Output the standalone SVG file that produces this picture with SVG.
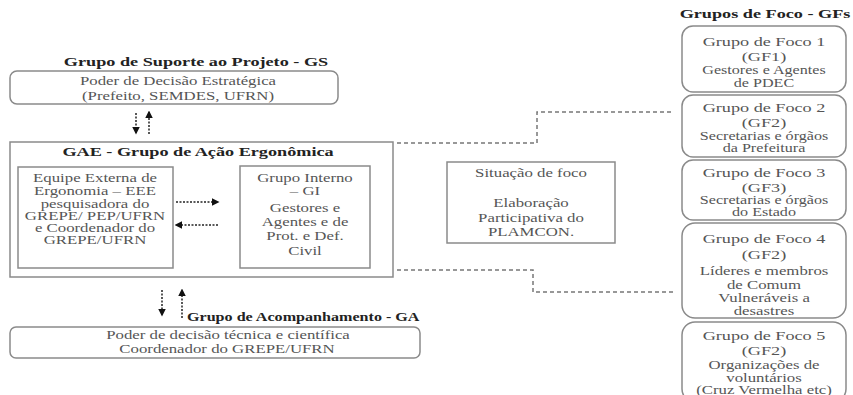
<svg xmlns="http://www.w3.org/2000/svg" width="853" height="395" viewBox="0 0 853 395" font-family="'Liberation Serif', 'Times New Roman', serif">
<defs>
<style>
text{font-family:'Liberation Serif','Times New Roman',serif;text-anchor:middle}
.r{fill:#555;font-size:12px}
.s{fill:#555;font-size:11.5px}
.m{fill:#555;font-size:13px}
.b{fill:#222;font-size:13px;font-weight:bold}
.box{fill:#fff;stroke:#8a8a8a;stroke-width:1.5}
.dash{fill:none;stroke:#777;stroke-width:1.5;stroke-dasharray:4 3}
.arr{fill:none;stroke:#222;stroke-width:1.5;stroke-dasharray:2 1.5}
</style>
<marker id="ah" viewBox="0 0 10 10" refX="8" refY="5" markerWidth="5" markerHeight="5" orient="auto">
<path d="M0,0 L10,5 L0,10 z" fill="#111"/>
</marker>
</defs>
<rect width="853" height="395" fill="#fff"/>

<g id="gs">
<text class="b" transform="translate(196,66) scale(1.4,1)">Grupo de Suporte ao Projeto - GS</text>
<rect class="box" x="10" y="71" width="328" height="33" rx="7"/>
<text class="r" transform="translate(178,85) scale(1.4,1)">Poder de Decisão Estratégica</text>
<text class="r" transform="translate(178,100) scale(1.4,1)">(Prefeito, SEMDES, UFRN)</text>
</g>

<g id="gae">
<rect class="box" x="10" y="142" width="383" height="135"/>
<text class="b" transform="translate(198,156) scale(1.4,1)">GAE - Grupo de Ação Ergonômica</text>
</g>

<g id="eee">
<rect class="box" x="18" y="167" width="155" height="101"/>
<text class="r" transform="translate(95,182) scale(1.4,1)">Equipe Externa de</text>
<text class="r" transform="translate(95,195) scale(1.4,1)">Ergonomia – EEE</text>
<text class="r" transform="translate(95,208) scale(1.4,1)">pesquisadora do</text>
<text class="r" transform="translate(95,220) scale(1.4,1)">GREPE/ PEP/UFRN</text>
<text class="r" transform="translate(95,232) scale(1.4,1)">e Coordenador do</text>
<text class="r" transform="translate(95,244) scale(1.4,1)">GREPE/UFRN</text>
</g>

<g id="gi">
<rect class="box" x="240" y="166" width="130" height="102"/>
<text class="r" transform="translate(305,182) scale(1.4,1)">Grupo Interno</text>
<text class="r" transform="translate(305,195) scale(1.4,1)">– GI</text>
<text class="r" transform="translate(305,212) scale(1.4,1)">Gestores e</text>
<text class="r" transform="translate(305,226) scale(1.4,1)">Agentes e de</text>
<text class="r" transform="translate(305,240) scale(1.4,1)">Prot. e Def.</text>
<text class="r" transform="translate(305,255) scale(1.4,1)">Civil</text>
</g>

<g id="foco">
<rect class="box" x="447" y="162" width="168" height="81"/>
<text class="r" transform="translate(531,177) scale(1.4,1)">Situação de foco</text>
<text class="r" transform="translate(531,207) scale(1.4,1)">Elaboração</text>
<text class="r" transform="translate(531,222) scale(1.4,1)">Participativa do</text>
<text class="r" transform="translate(531,236) scale(1.4,1)">PLAMCON.</text>
</g>

<g id="ga">
<text class="b" style="text-anchor:start;font-size:11.5px" transform="translate(187,321) scale(1.4,1)">Grupo de Acompanhamento - GA</text>
<rect class="box" x="10" y="327" width="410" height="31" rx="6"/>
<text class="r" transform="translate(228,339) scale(1.4,1)">Poder de decisão técnica e científica</text>
<text class="r" transform="translate(227,353) scale(1.4,1)">Coordenador  do GREPE/UFRN</text>
</g>

<g id="gfs">
<text class="b" transform="translate(765,18) scale(1.4,1)">Grupos de Foco - GFs</text>
</g>

<g id="gf1">
<rect class="box" x="682" y="26" width="164" height="66" rx="11"/>
<text class="m" transform="translate(764,46) scale(1.4,1)">Grupo de Foco 1</text>
<text class="m" transform="translate(764,61) scale(1.4,1)">(GF1)</text>
<text class="s" transform="translate(764,74) scale(1.4,1)">Gestores e Agentes</text>
<text class="s" transform="translate(764,87) scale(1.4,1)">de PDEC</text>
</g>

<g id="gf2">
<rect class="box" x="682" y="95" width="164" height="62" rx="11"/>
<text class="m" transform="translate(764,112) scale(1.4,1)">Grupo de Foco 2</text>
<text class="m" transform="translate(764,127) scale(1.4,1)">(GF2)</text>
<text class="s" transform="translate(764,140) scale(1.4,1)">Secretarias e órgãos</text>
<text class="s" transform="translate(764,152) scale(1.4,1)">da Prefeitura</text>
</g>

<g id="gf3">
<rect class="box" x="682" y="160" width="164" height="60" rx="11"/>
<text class="m" transform="translate(764,177) scale(1.4,1)">Grupo de Foco 3</text>
<text class="m" transform="translate(764,192) scale(1.4,1)">(GF3)</text>
<text class="s" transform="translate(764,204) scale(1.4,1)">Secretarias e órgãos</text>
<text class="s" transform="translate(764,216) scale(1.4,1)">do Estado</text>
</g>

<g id="gf4">
<rect class="box" x="682" y="223" width="164" height="95" rx="13"/>
<text class="m" transform="translate(764,243) scale(1.4,1)">Grupo de Foco 4</text>
<text class="m" transform="translate(764,259) scale(1.4,1)">(GF2)</text>
<text class="r" transform="translate(764,275) scale(1.4,1)">Líderes e membros</text>
<text class="r" transform="translate(764,289) scale(1.4,1)">de Comum</text>
<text class="r" transform="translate(764,302) scale(1.4,1)">Vulneráveis a</text>
<text class="r" transform="translate(764,315) scale(1.4,1)">desastres</text>
</g>

<g id="gf5">
<rect class="box" x="682" y="322" width="164" height="80" rx="13"/>
<text class="m" transform="translate(764,340) scale(1.4,1)">Grupo de Foco 5</text>
<text class="m" transform="translate(764,355) scale(1.4,1)">(GF2)</text>
<text class="r" transform="translate(764,369) scale(1.4,1)">Organizações de</text>
<text class="r" transform="translate(764,382) scale(1.4,1)">voluntários</text>
<text class="r" transform="translate(764,394) scale(1.4,1)">(Cruz Vermelha etc)</text>
</g>

<g id="connectors">
<path class="dash" d="M397,143 H537 V112 H674"/>
<path class="dash" d="M397,270 H533 V292 H674"/>
<path class="arr" d="M136,113 V133" marker-end="url(#ah)"/>
<path class="arr" d="M149,134 V112" marker-end="url(#ah)"/>
<path class="arr" d="M176,202 H218" marker-end="url(#ah)"/>
<path class="arr" d="M218,225 H176" marker-end="url(#ah)"/>
<path class="arr" d="M162,290 V315" marker-end="url(#ah)"/>
<path class="arr" d="M182,318 V290" marker-end="url(#ah)"/>
</g>
</svg>
